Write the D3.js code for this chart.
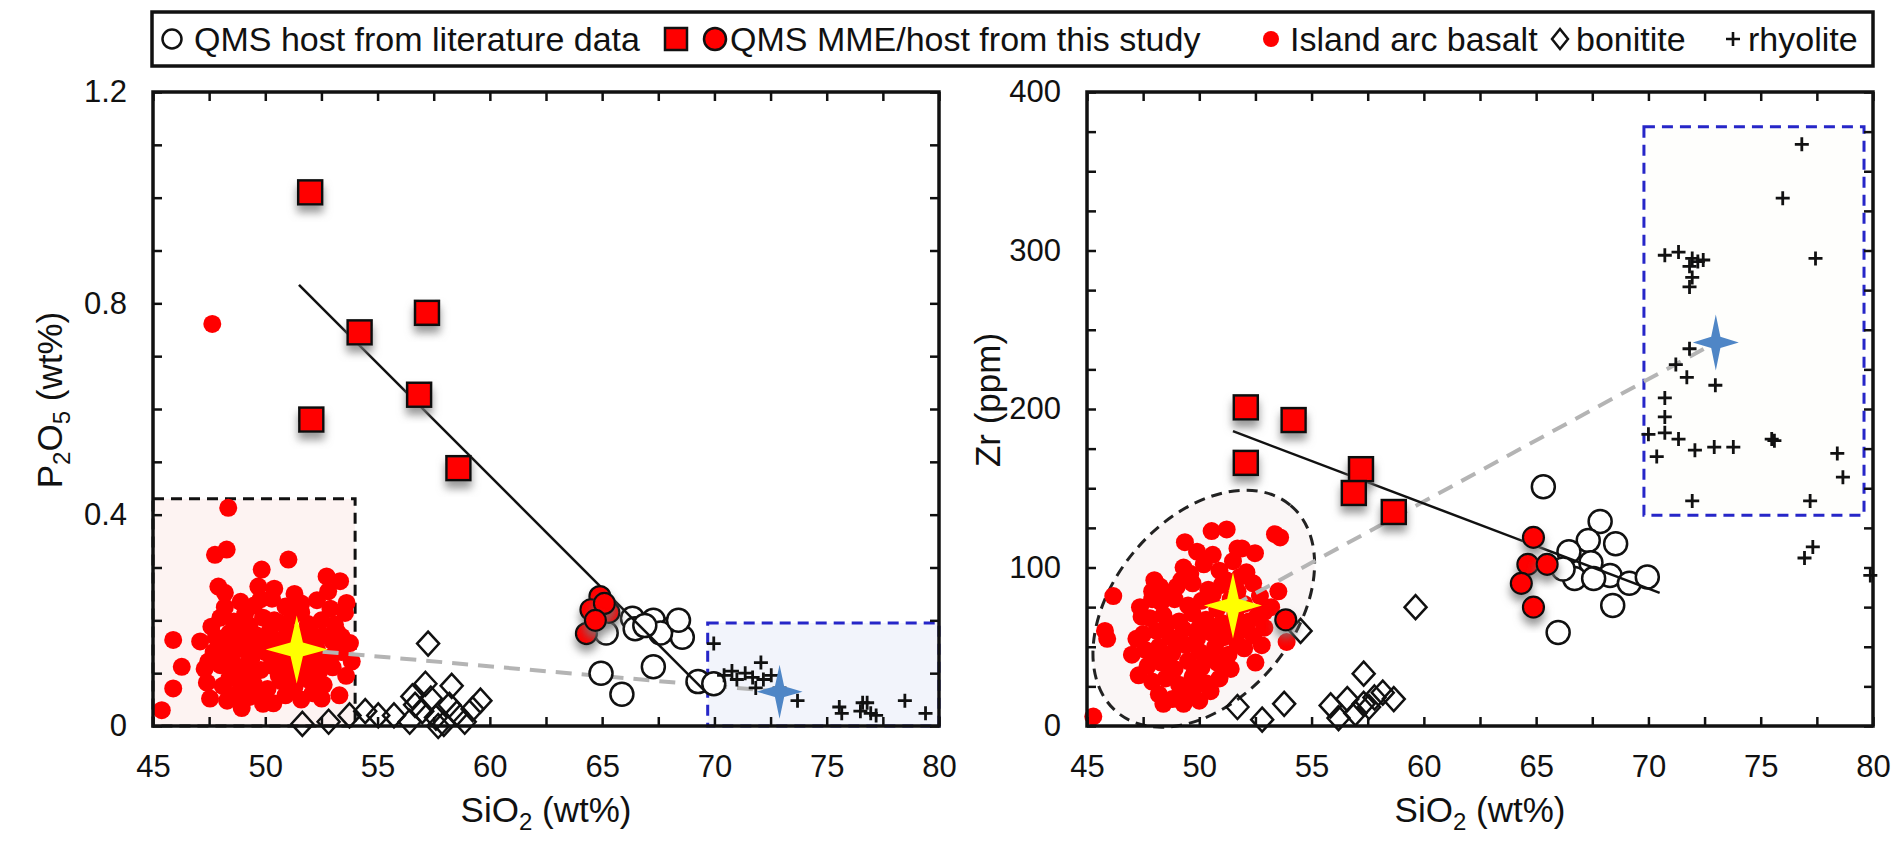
<!DOCTYPE html>
<html>
<head>
  <meta charset="utf-8">
  <title>P2O5 and Zr vs SiO2</title>
  <script src="https://d3js.org/d3.v7.min.js"></script>
  <style>
    body { margin: 0; background: #fff; }
    text { font-family: "Liberation Sans", Arial, sans-serif; fill: #111; }
  </style>
</head>
<body>
<script>
  // ---- data (SiO2 wt%, P2O5 wt%) for the left panel ----
  var leftBasalt = [
    [47.64,0.761],[48.35,0.413],[47.76,0.324],[48.28,0.334],[51.03,0.315],[49.84,0.296],[52.73,0.283],[53.33,0.274],
    [47.91,0.264],[48.2,0.252],[49.69,0.264],[53.62,0.233],[53.55,0.214],[45.9,0.163],[46.28,0.112],[45.9,0.071],
    [45.39,0.030],[47.46,0.122],[47.54,0.052],[48.95,0.034],[50.36,0.043],[52.51,0.052],[53.4,0.169],[53.77,0.157],[53.85,0.122],
    [48.9,0.235],[49.5,0.228],[50.3,0.241],[50.9,0.226],[51.6,0.232],[52.3,0.238],[52.9,0.222],[49.1,0.212],
    [48.0,0.205],[48.6,0.198],[49.3,0.19],[49.9,0.205],[50.6,0.196],[51.2,0.208],[51.9,0.193],[52.5,0.2],[53.1,0.192],[47.6,0.188],
    [47.8,0.168],[48.4,0.176],[49.0,0.163],[49.6,0.172],[50.2,0.18],[50.8,0.165],[51.4,0.174],[52.0,0.16],[52.6,0.171],[53.2,0.178],[48.7,0.153],
    [47.7,0.14],[48.3,0.135],[48.9,0.146],[49.4,0.13],[50.0,0.14],[50.5,0.152],[51.0,0.132],[51.7,0.138],[52.3,0.145],[52.9,0.13],[53.4,0.14],
    [47.3,0.108],[48.0,0.115],[48.6,0.104],[49.2,0.118],[49.8,0.106],[50.4,0.112],[51.1,0.1],[51.8,0.114],[52.4,0.103],[53.0,0.111],[53.6,0.095],
    [47.4,0.082],[48.1,0.076],[48.8,0.088],[49.5,0.079],[50.1,0.07],[50.7,0.085],[51.3,0.074],[51.9,0.088],[52.6,0.078],[49.0,0.065],
    [48.3,0.048],[49.3,0.055],[49.9,0.042],[50.9,0.058],[51.6,0.05],[52.1,0.062],[48.7,0.06],
    [49.6,0.15],[50.3,0.125],[50.9,0.19],[51.5,0.16],[49.2,0.095],[50.6,0.095],[51.2,0.12],[48.5,0.125],[52.0,0.128],
    [49.8,0.24],[50.4,0.26],[51.3,0.25],[47.1,0.16],[52.8,0.255],[48.2,0.225],[53.3,0.058],
    [49.0,0.185],[50.0,0.165],[51.0,0.15],[52.0,0.18],[49.4,0.11],[50.8,0.115],[52.2,0.085],[48.4,0.09],
    [50.4,0.2],[51.6,0.215],[49.7,0.06],[51.4,0.09],[52.7,0.12],[48.2,0.16],[53.0,0.16]
  ];
  var leftHostLit = [
    [66.35,0.204],[67.28,0.2],[68.1,0.184],[68.57,0.168],[67.6,0.176],[65.18,0.176],[66.47,0.184],
    [64.95,0.1],[65.88,0.06],[67.28,0.112],[69.27,0.084],[69.97,0.08],[66.9,0.19],[68.4,0.2]
  ];
  var leftHostStudy = [[64.9,0.245],[64.5,0.22],[65.3,0.215],[64.3,0.175],[65.1,0.232],[64.7,0.2]];
  var leftMME = [[52.0,1.01],[54.2,0.745],[57.2,0.782],[56.85,0.627],[52.05,0.58],[58.6,0.488]];
  var leftBonitite = [
    [57.25,0.156],[58.3,0.076],[59.58,0.048],[56.55,0.056],[57.13,0.08],[51.65,0.004],[52.82,0.008],[53.75,0.02],
    [54.45,0.028],[55.03,0.02],[55.73,0.02],[56.43,0.008],[56.99,0.028],[57.6,0.016],[57.95,0.004],[58.53,0.024],
    [58.88,0.008],[56.67,0.04],[57.37,0.052],[58.2,0.04],[59.23,0.032],[57.7,0.0]
  ];
  var leftRhyolite = [
    [69.97,0.156],[70.43,0.096],[70.78,0.104],[71.0,0.088],[71.37,0.1],[71.7,0.092],[72.07,0.12],[72.18,0.088],
    [71.84,0.072],[72.53,0.096],[73.7,0.048],[75.56,0.036],[75.67,0.024],[76.6,0.044],[76.8,0.044],[76.96,0.024],
    [77.2,0.02],[78.48,0.048],[79.4,0.024],[72.9,0.072],[76.5,0.028]
  ];
  var leftTrend = [[51.5,0.835],[69.6,0.065]];
  var leftBasaltBox = [[45,0],[54,0.43]];
  var leftRhyoliteBox = [[69.7,0],[80,0.195]];
  var leftStars = { basalt: [51.4,0.145], rhyolite: [72.9,0.065] };

  // ---- data (SiO2 wt%, Zr ppm) for the right panel ----
  var rightBasalt = [
    [51.22,124],[50.55,123],[53.37,121],[53.6,119],[49.36,116],[52.48,109],[46.17,82],[45.8,60],[45.28,6],
    [47.36,75],[47.43,69],[48.25,88],[53.52,85],[53.89,53],[52.78,51],[48.4,14],[49.14,19],[49.81,25],
    [45.9,55],[51.7,112],[49.9,110],
    [50.2,102],[50.9,98],[51.5,104],[52.1,97],[49.6,96],[51.2,92],
    [49.0,88],[49.7,90],[50.4,86],[51.0,89],[51.7,85],[52.4,90],[48.6,84],
    [48.3,78],[48.9,80],[49.5,76],[50.1,79],[50.8,74],[51.4,80],[52.0,77],[52.7,82],[47.9,80],
    [47.8,68],[48.4,70],[49.1,66],[49.7,71],[50.3,67],[51.0,65],[51.6,70],[52.2,66],[52.9,72],
    [47.5,58],[48.1,60],[48.7,56],[49.3,61],[49.9,55],[50.5,59],[51.1,56],[51.8,60],[52.4,57],
    [47.6,48],[48.2,50],[48.8,46],[49.4,51],[50.0,47],[50.7,50],[51.3,45],[52.0,49],
    [47.7,38],[48.3,40],[48.9,36],[49.5,41],[50.1,37],[50.8,40],[51.4,36],
    [47.9,28],[48.5,30],[49.1,26],[49.7,31],[50.3,27],[50.9,30],
    [48.2,20],[48.8,17],[49.5,21],[50.0,16],
    [47.2,55],[47.0,45],[52.9,62],[53.2,75],[48.0,92],[49.3,100],[50.6,108],[51.9,112],[47.3,32],[52.5,40],
    [48.6,65],[50.0,62],[51.3,60],[49.0,52],[50.3,44],[51.7,52],[48.6,42],[49.8,34],
    [50.6,83],[49.2,92],[51.8,94],[48.1,45],[47.9,85],[52.6,70],[49.3,14],[50.5,22]
  ];
  var rightHostLit = [
    [65.32,151],[67.85,129],[68.54,115],[67.32,117],[66.46,110],[67.44,103],[68.29,95],[69.15,90],
    [69.95,94],[66.71,93],[67.56,93],[68.41,76],[65.98,59],[66.2,99]
  ];
  var rightHostStudy = [[64.88,119],[64.63,102],[65.49,102],[64.34,90],[64.88,75],[53.85,67]];
  var rightMME = [[52.07,201],[54.2,193],[52.07,166],[57.2,162],[56.88,147],[58.66,135]];
  var rightBonitite = [
    [59.63,75],[54.51,60],[51.7,12],[52.8,4],[53.78,14],[57.32,33],[55.85,13],[56.2,5],[56.59,17],
    [57.32,14],[57.8,18],[58.17,21],[58.66,17],[56.95,8],[57.56,12]
  ];
  var rightRhyolite = [
    [76.83,367],[75.98,333],[70.73,297],[71.34,299],[71.95,295],[72.2,293],[72.44,294],[71.83,290],
    [71.95,283],[71.83,277],[77.44,295],[71.83,238],[71.22,228],[71.71,220],[72.98,215],[70.73,207],
    [70.73,195],[70.0,184],[70.73,185],[71.34,181],[72.07,174],[72.93,176],[73.78,176],[70.37,170],
    [75.49,181],[75.61,180],[78.41,172],[78.66,157],[71.95,142],[77.2,142],[77.32,113],[76.95,106],[79.88,95]
  ];
  var rightTrend = [[51.5,186],[70.5,84]];
  var rightRhyoliteBox = [[69.8,133],[79.6,378]];
  var rightEllipseCenter = [50.2,74];
  var rightStars = { basalt: [51.5,76], rhyolite: [73.0,242] };

  // ---- axes ----
  var xTicks = [45, 50, 55, 60, 65, 70, 75, 80];
  var xMinor = d3.range(45, 80.01, 2.5);
  var yTicksLeft = [0, 0.4, 0.8, 1.2];
  var yMinorLeft = d3.range(0, 13).map(function (i) { return i / 10; });
  var yTicksRight = [0, 100, 200, 300, 400];
  var yMinorRight = d3.range(0, 401, 25);

  var legendItems = ["QMS host from literature data", "QMS MME/host from this study", "Island arc basalt", "bonitite", "rhyolite"];

  var width = 1900, height = 848;
  var plotTop = 92, plotBottom = 726;
  var red = "#ff0000";

  var svg = d3.select("body").append("svg").attr("width", width).attr("height", height);

  var defs = svg.append("defs");
  var shadow = defs.append("filter").attr("id", "shadow")
    .attr("x", "-50%").attr("y", "-50%").attr("width", "200%").attr("height", "220%");
  shadow.append("feDropShadow").attr("dx", 0).attr("dy", 7).attr("stdDeviation", 4)
    .attr("flood-color", "#777").attr("flood-opacity", 0.75);

  var xL = d3.scaleLinear().domain([45, 80]).range([153, 939]);
  var yL = d3.scaleLinear().domain([0, 1.2]).range([plotBottom, plotTop]);
  var xR = d3.scaleLinear().domain([45, 80]).range([1087, 1873]);
  var yR = d3.scaleLinear().domain([0, 400]).range([plotBottom, plotTop]);

  function starPath(rx, ry) {
    var k = 0.2;
    return "M0," + (-ry) + "L" + (rx * k) + "," + (-ry * k) + "L" + rx + ",0L" + (rx * k) + "," + (ry * k) +
      "L0," + ry + "L" + (-rx * k) + "," + (ry * k) + "L" + (-rx) + ",0L" + (-rx * k) + "," + (-ry * k) + "Z";
  }

  function axes(x, y, yMinor, yTicks, yFmt) {
    var g = svg.append("g");
    g.append("g").attr("transform", "translate(0," + plotBottom + ")")
      .call(d3.axisBottom(x).tickValues(xMinor).tickSize(-9).tickPadding(29)
        .tickFormat(function (d) { return xTicks.indexOf(d) >= 0 ? d : ""; }));
    g.append("g").attr("transform", "translate(0," + plotTop + ")")
      .call(d3.axisTop(x).tickValues(xMinor).tickSize(-9).tickFormat(""));
    g.append("g").attr("transform", "translate(" + x.range()[0] + ",0)")
      .call(d3.axisLeft(y).tickValues(yMinor).tickSize(-9).tickPadding(26)
        .tickFormat(function (d) { return yTicks.some(function (t) { return Math.abs(t - d) < 1e-9; }) ? yFmt(d) : ""; }));
    g.append("g").attr("transform", "translate(" + x.range()[1] + ",0)")
      .call(d3.axisRight(y).tickValues(yMinor).tickSize(-9).tickFormat(""));
    g.selectAll(".domain").remove();
    g.selectAll(".tick line").attr("stroke", "#111").attr("stroke-width", 2.5);
    g.selectAll(".tick text").attr("font-size", 31).attr("fill", "#111")
      .attr("font-family", "Liberation Sans, Arial, sans-serif");
    svg.append("rect").attr("x", x.range()[0]).attr("y", plotTop)
      .attr("width", x.range()[1] - x.range()[0]).attr("height", plotBottom - plotTop)
      .attr("fill", "none").attr("stroke", "#111").attr("stroke-width", 3.5);
  }

  function box(x, y, b, stroke, fill) {
    svg.append("rect")
      .attr("x", x(b[0][0])).attr("y", y(b[1][1]))
      .attr("width", x(b[1][0]) - x(b[0][0])).attr("height", y(b[0][1]) - y(b[1][1]))
      .attr("fill", fill).attr("stroke", stroke).attr("stroke-width", 3).attr("stroke-dasharray", "11,7");
  }

  function dots(data, x, y, r, fill, stroke, sw, filter) {
    var s = svg.append("g").selectAll("circle").data(data).enter().append("circle")
      .attr("cx", function (d) { return x(d[0]); }).attr("cy", function (d) { return y(d[1]); })
      .attr("r", r).attr("fill", fill).attr("stroke", stroke).attr("stroke-width", sw);
    if (filter) s.attr("filter", "url(#shadow)");
  }

  function squares(data, x, y) {
    svg.append("g").selectAll("rect").data(data).enter().append("rect")
      .attr("x", function (d) { return x(d[0]) - 12; }).attr("y", function (d) { return y(d[1]) - 12; })
      .attr("width", 24).attr("height", 24).attr("fill", red)
      .attr("stroke", "#111").attr("stroke-width", 2.5).attr("filter", "url(#shadow)");
  }

  function diamonds(data, x, y) {
    svg.append("g").selectAll("path").data(data).enter().append("path")
      .attr("transform", function (d) { return "translate(" + x(d[0]) + "," + y(d[1]) + ")"; })
      .attr("d", "M0,-12L11,0L0,12L-11,0Z").attr("fill", "none").attr("stroke", "#111").attr("stroke-width", 2.5);
  }

  function pluses(data, x, y) {
    svg.append("g").selectAll("path").data(data).enter().append("path")
      .attr("transform", function (d) { return "translate(" + x(d[0]) + "," + y(d[1]) + ")"; })
      .attr("d", "M-7,0H7M0,-7V7").attr("stroke", "#111").attr("stroke-width", 2.8);
  }

  function line(pts, x, y, stroke, sw, dash) {
    svg.append("path").datum(pts)
      .attr("d", d3.line().x(function (d) { return x(d[0]); }).y(function (d) { return y(d[1]); }))
      .attr("stroke", stroke).attr("stroke-width", sw).attr("fill", "none")
      .attr("stroke-dasharray", dash || null);
  }

  function star(p, x, y, rx, ry, fill) {
    svg.append("path").attr("transform", "translate(" + x(p[0]) + "," + y(p[1]) + ")")
      .attr("d", starPath(rx, ry)).attr("fill", fill);
  }

  // ---- left panel ----
  box(xL, yL, leftBasaltBox, "#111", "#fdf3f2");
  box(xL, yL, leftRhyoliteBox, "#2626c8", "#f2f4fb");
  dots(leftBasalt, xL, yL, 9, red, "none", 0, false);
  line([leftStars.basalt, leftStars.rhyolite], xL, yL, "#b4b4b4", 4, "16,10");
  diamonds(leftBonitite, xL, yL);
  dots(leftHostLit, xL, yL, 11.5, "#fff", "#111", 2.5, false);
  pluses(leftRhyolite, xL, yL);
  line(leftTrend, xL, yL, "#111", 2.5);
  dots(leftHostStudy, xL, yL, 10.5, red, "#111", 2.2, true);
  squares(leftMME, xL, yL);
  star(leftStars.basalt, xL, yL, 31, 34, "#ffff00");
  star(leftStars.rhyolite, xL, yL, 23, 27, "#4f86c6");
  axes(xL, yL, yMinorLeft, yTicksLeft, function (d) { return d === 0 ? "0" : d.toFixed(1); });

  // ---- right panel ----
  box(xR, yR, rightRhyoliteBox, "#2626c8", "#fefefc");
  svg.append("ellipse")
    .attr("transform", "translate(" + xR(rightEllipseCenter[0]) + "," + yR(rightEllipseCenter[1]) + ") rotate(-50)")
    .attr("rx", 135).attr("ry", 90).attr("fill", "#faf6f6")
    .attr("stroke", "#222").attr("stroke-width", 3).attr("stroke-dasharray", "11,7");
  dots(rightBasalt, xR, yR, 9, red, "none", 0, false);
  line([rightStars.basalt, rightStars.rhyolite], xR, yR, "#b4b4b4", 4, "16,10");
  diamonds(rightBonitite, xR, yR);
  dots(rightHostLit, xR, yR, 11.5, "#fff", "#111", 2.5, false);
  pluses(rightRhyolite, xR, yR);
  line(rightTrend, xR, yR, "#111", 2.5);
  dots(rightHostStudy, xR, yR, 10.5, red, "#111", 2.2, true);
  squares(rightMME, xR, yR);
  star(rightStars.basalt, xR, yR, 29, 33, "#ffff00");
  star(rightStars.rhyolite, xR, yR, 23, 28, "#4f86c6");
  axes(xR, yR, yMinorRight, yTicksRight, function (d) { return String(d); });

  // ---- axis titles ----
  function sioTitle(cx) {
    var t = svg.append("text").attr("x", cx).attr("y", 822).attr("text-anchor", "middle").attr("font-size", 35);
    t.append("tspan").text("SiO");
    t.append("tspan").attr("font-size", 24).attr("dy", 8).text("2");
    t.append("tspan").attr("dy", -8).text(" (wt%)");
  }
  sioTitle((xL.range()[0] + xL.range()[1]) / 2);
  sioTitle((xR.range()[0] + xR.range()[1]) / 2);

  var yt = svg.append("text").attr("transform", "translate(62,400) rotate(-90)")
    .attr("text-anchor", "middle").attr("font-size", 35);
  yt.append("tspan").text("P");
  yt.append("tspan").attr("font-size", 24).attr("dy", 8).text("2");
  yt.append("tspan").attr("dy", -8).text("O");
  yt.append("tspan").attr("font-size", 24).attr("dy", 8).text("5");
  yt.append("tspan").attr("dy", -8).text(" (wt%)");

  svg.append("text").attr("transform", "translate(1000,400) rotate(-90)")
    .attr("text-anchor", "middle").attr("font-size", 35).text("Zr (ppm)");

  // ---- legend ----
  var lg = svg.append("g");
  lg.append("rect").attr("x", 152).attr("y", 12).attr("width", 1721).attr("height", 54)
    .attr("fill", "#fff").attr("stroke", "#111").attr("stroke-width", 3.5);
  var ly = 39;
  lg.append("circle").attr("cx", 172).attr("cy", ly).attr("r", 9.5).attr("fill", "#fff").attr("stroke", "#111").attr("stroke-width", 2.5);
  lg.append("rect").attr("x", 665).attr("y", ly - 11).attr("width", 22).attr("height", 22).attr("fill", red).attr("stroke", "#111").attr("stroke-width", 2.5);
  lg.append("circle").attr("cx", 715).attr("cy", ly).attr("r", 11).attr("fill", red).attr("stroke", "#111").attr("stroke-width", 2.5);
  lg.append("circle").attr("cx", 1271).attr("cy", ly).attr("r", 8).attr("fill", red);
  lg.append("path").attr("transform", "translate(1560," + ly + ")").attr("d", "M0,-10L8,0L0,10L-8,0Z")
    .attr("fill", "none").attr("stroke", "#111").attr("stroke-width", 2.5);
  lg.append("path").attr("transform", "translate(1733," + ly + ")").attr("d", "M-7,0H7M0,-7V7")
    .attr("stroke", "#111").attr("stroke-width", 2.6);
  var lx = [194, 730, 1290, 1576, 1748];
  lg.selectAll("text.item").data(legendItems).enter().append("text").attr("class", "item")
    .attr("x", function (d, i) { return lx[i]; }).attr("y", ly + 12).attr("font-size", 34)
    .text(function (d) { return d; });
</script>
</body>
</html>
